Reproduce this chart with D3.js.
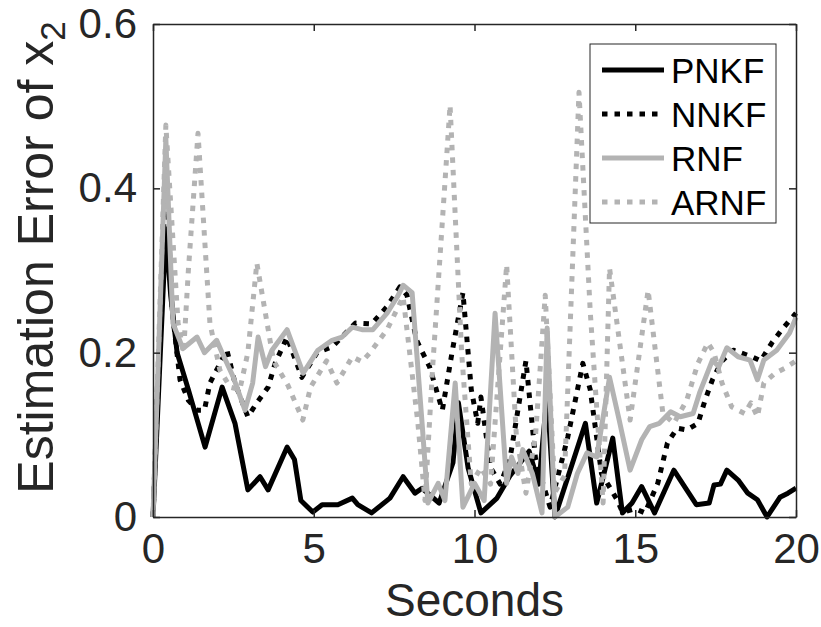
<!DOCTYPE html>
<html>
<head>
<meta charset="utf-8">
<script src="https://cdn.jsdelivr.net/npm/d3@7"></script>
<style>
  html, body { margin: 0; padding: 0; background: #fff; }
  svg { display: block; font-family: "Liberation Sans", Arial, Helvetica, sans-serif; }
</style>
</head>
<body>
<div id="chart"></div>
<script>
// [seconds, error] pairs
const pnkf = [[0,0],[0.4,0.35],[0.55,0.27],[0.75,0.2],[1.1,0.155],[1.62,0.085],[2.15,0.158],[2.55,0.114],[2.95,0.033],[3.33,0.049],[3.58,0.033],[4.17,0.085],[4.4,0.07],[4.6,0.02],[4.97,0.006],[5.26,0.015],[5.75,0.015],[6.2,0.023],[6.37,0.015],[6.8,0.005],[7.37,0.023],[7.78,0.049],[8.15,0.029],[8.37,0.035],[8.9,0.017],[9.33,0.066],[9.5,0.139],[9.8,0.06],[10.2,0.005],[10.7,0.023],[11.1,0.05],[11.7,0.08],[12.0,0.04],[12.26,0.15],[12.5,0.0],[13.0,0.06],[13.45,0.114],[13.8,0.017],[14.3,0.096],[14.6,0.005],[14.9,0.017],[15.2,0.037],[15.6,0.005],[16.2,0.057],[16.6,0.033],[16.9,0.015],[17.3,0.017],[17.45,0.039],[17.65,0.04],[17.85,0.057],[18.2,0.045],[18.5,0.029],[18.8,0.021],[19.1,0],[19.5,0.024],[19.75,0.029],[20,0.035]];
const nnkf = [[0,0],[0.4,0.42],[0.6,0.25],[0.84,0.167],[1.1,0.142],[1.37,0.13],[1.6,0.13],[1.77,0.163],[2.3,0.203],[2.55,0.163],[2.95,0.122],[3.23,0.139],[3.58,0.158],[3.8,0.187],[4.17,0.219],[4.63,0.17],[5.1,0.2],[5.57,0.207],[6.3,0.236],[6.8,0.235],[7.28,0.256],[7.68,0.28],[7.9,0.27],[8.2,0.215],[8.6,0.183],[9.0,0.13],[9.3,0.2],[9.64,0.273],[9.9,0.155],[10.1,0.114],[10.2,0.146],[10.5,0.06],[10.8,0.04],[11.1,0.07],[11.6,0.19],[11.9,0.07],[12.35,0.012],[12.9,0.097],[13.37,0.187],[13.6,0.155],[13.95,0.053],[14.45,0.02],[14.6,0.006],[15.0,0.01],[15.3,0.005],[15.7,0.041],[16.0,0.09],[16.3,0.108],[16.6,0.106],[16.95,0.114],[17.17,0.142],[17.4,0.167],[17.7,0.19],[18.05,0.203],[18.63,0.195],[18.9,0.19],[19.25,0.212],[19.6,0.23],[20,0.248]];
const rnf = [[0,0],[0.4,0.46],[0.62,0.236],[0.93,0.205],[1.37,0.219],[1.6,0.2],[1.98,0.215],[2.15,0.2],[2.5,0.17],[2.86,0.13],[3.1,0.163],[3.27,0.219],[3.5,0.183],[3.7,0.203],[4.17,0.228],[4.67,0.175],[5.13,0.203],[5.57,0.215],[5.88,0.219],[6.2,0.231],[6.5,0.228],[6.84,0.228],[7.28,0.248],[7.6,0.268],[7.78,0.282],[8.06,0.273],[8.37,0.114],[8.55,0.017],[8.87,0.041],[9.08,0.02],[9.4,0.163],[9.64,0.012],[10.0,0.041],[10.3,0.02],[10.64,0.248],[11.0,0.041],[11.15,0.073],[11.35,0.053],[11.5,0.082],[11.8,0.053],[12.1,0.005],[12.26,0.23],[12.5,0.0],[12.9,0.012],[13.2,0.053],[13.5,0.078],[13.8,0.073],[14.2,0.17],[14.5,0.118],[14.84,0.057],[15.2,0.094],[15.45,0.11],[15.75,0.114],[16.1,0.128],[16.4,0.122],[16.8,0.126],[17.0,0.151],[17.4,0.191],[17.6,0.183],[17.85,0.206],[18.2,0.195],[18.57,0.191],[18.8,0.167],[19.0,0.191],[19.4,0.203],[19.8,0.224],[20,0.243]];
const arnf = [[0,0],[0.4,0.477],[0.78,0.236],[0.95,0.2],[1.1,0.3],[1.4,0.467],[1.77,0.236],[2.08,0.179],[2.4,0.158],[2.7,0.155],[2.95,0.2],[3.23,0.309],[3.4,0.27],[3.75,0.19],[4.2,0.16],[4.66,0.118],[4.9,0.158],[5.4,0.19],[5.72,0.163],[6.2,0.195],[6.5,0.189],[6.75,0.2],[7.28,0.228],[7.78,0.268],[8.24,0.114],[8.46,0.02],[8.7,0.183],[9.24,0.501],[9.6,0.2],[9.9,0.04],[10.2,0.06],[10.5,0.04],[11.0,0.307],[11.3,0.1],[11.6,0.029],[11.9,0.1],[12.2,0.27],[12.5,0.03],[12.8,0.05],[13.25,0.517],[13.6,0.25],[14.0,0.017],[14.2,0.303],[14.84,0.118],[15.4,0.276],[15.86,0.126],[16.2,0.114],[16.6,0.142],[16.95,0.187],[17.26,0.212],[17.45,0.2],[17.7,0.163],[18.0,0.134],[18.4,0.126],[18.6,0.139],[18.8,0.122],[19.0,0.163],[19.35,0.175],[19.65,0.181],[20,0.19]];

const seriesNames = ['PNKF', 'NNKF', 'RNF', 'ARNF'];
const xTicks = [0, 5, 10, 15, 20];
const yTicks = [0, 0.2, 0.4, 0.6];

const width = 821;
const height = 627;
const margin = { top: 24, right: 25, bottom: 110, left: 153 };
const axisColor = '#262626';

const styles = {
  PNKF: { color: '#000000', dash: null, width: 5 },
  NNKF: { color: '#000000', dash: '5.5,7', width: 5 },
  RNF: { color: '#b3b3b3', dash: null, width: 5 },
  ARNF: { color: '#b3b3b3', dash: '5.5,7', width: 5 }
};

const svg = d3.select('#chart').append('svg')
  .attr('width', width)
  .attr('height', height);

const x = d3.scaleLinear().domain([0, 20]).range([margin.left, width - margin.right]);
const y = d3.scaleLinear().domain([0, 0.6]).range([height - margin.bottom, margin.top]);

const line = d3.line().x((d) => x(d[0])).y((d) => y(d[1]));

const series = [pnkf, nnkf, rnf, arnf];
const lineLayer = svg.append('g');
series.forEach((data, i) => {
  const s = styles[seriesNames[i]];
  lineLayer.append('path')
    .datum(data)
    .attr('d', line)
    .attr('fill', 'none')
    .attr('stroke', s.color)
    .attr('stroke-width', s.width)
    .attr('stroke-linejoin', 'round')
    .attr('stroke-dasharray', s.dash);
});

// axes, MATLAB style box with inward ticks
const tickLen = 7;
const fontSize = 42;
const axes = svg.append('g');

axes.append('g')
  .attr('transform', `translate(0,${y(0)})`)
  .call(d3.axisBottom(x).tickValues(xTicks).tickSizeInner(-tickLen).tickSizeOuter(0).tickPadding(16).tickFormat(d3.format('d')));
axes.append('g')
  .attr('transform', `translate(0,${y(0.6)})`)
  .call(d3.axisTop(x).tickValues(xTicks).tickSizeInner(-tickLen).tickSizeOuter(0).tickFormat(''));
axes.append('g')
  .attr('transform', `translate(${x(0)},0)`)
  .call(d3.axisLeft(y).tickValues(yTicks).tickSizeInner(-tickLen).tickSizeOuter(0).tickPadding(16).tickFormat((d) => d === 0 ? '0' : d3.format('.1f')(d)));
axes.append('g')
  .attr('transform', `translate(${x(20)},0)`)
  .call(d3.axisRight(y).tickValues(yTicks).tickSizeInner(-tickLen).tickSizeOuter(0).tickFormat(''));

axes.selectAll('.domain').attr('stroke', axisColor).attr('stroke-width', 1.5);
axes.selectAll('.tick line').attr('stroke', axisColor).attr('stroke-width', 1.5);
axes.selectAll('.tick text')
  .attr('fill', axisColor)
  .attr('font-size', fontSize)
  .attr('font-family', '"Liberation Sans", Arial, sans-serif');

// axis labels
svg.append('text')
  .attr('x', (x(0) + x(20)) / 2)
  .attr('y', 616)
  .attr('text-anchor', 'middle')
  .attr('font-size', 46)
  .attr('fill', axisColor)
  .text('Seconds');

const ylab = svg.append('text')
  .attr('transform', `translate(53,${(y(0) + y(0.6)) / 2 - 13}) rotate(-90)`)
  .attr('text-anchor', 'middle')
  .attr('font-size', 50)
  .attr('fill', axisColor);
ylab.append('tspan').text('Estimation Error of x');
ylab.append('tspan').attr('font-size', 35).attr('dy', 12).text('2');

// legend
const legend = svg.append('g');
legend.append('rect')
  .attr('x', 590).attr('y', 44)
  .attr('width', 186).attr('height', 179)
  .attr('fill', '#fff')
  .attr('stroke', axisColor)
  .attr('stroke-width', 1);

seriesNames.forEach((name, i) => {
  const s = styles[name];
  const ry = 70 + i * 44;
  legend.append('line')
    .attr('x1', 602).attr('x2', 664)
    .attr('y1', ry).attr('y2', ry)
    .attr('stroke', s.color)
    .attr('stroke-width', s.width)
    .attr('stroke-dasharray', s.dash);
  legend.append('text')
    .attr('x', 671).attr('y', ry + 13)
    .attr('font-size', 35)
    .attr('fill', '#000')
    .text(name);
});
</script>
</body>
</html>
